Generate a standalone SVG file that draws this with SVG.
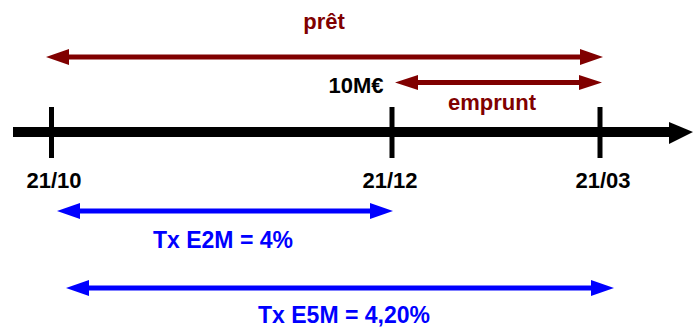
<svg xmlns="http://www.w3.org/2000/svg" width="693" height="329" viewBox="0 0 693 329">
<style>
text{font-family:"Liberation Sans",Arial,sans-serif;font-weight:bold;font-size:22px;text-anchor:middle}
.red{fill:#800000}
.blue{fill:#0000ff}
.blk{fill:#000}
.tick{stroke:#000;stroke-width:5}
</style>
<rect width="693" height="329" fill="#fff"/>
<g id="axis">
<rect x="13" y="127" width="657" height="10" fill="#000"/>
<path d="M669,122 L693,132 L669,144 Z" fill="#000"/>
<line class="tick" x1="51.5" y1="107" x2="51.5" y2="158"/>
<line class="tick" x1="392" y1="107" x2="392" y2="158"/>
<line class="tick" x1="600" y1="107" x2="600" y2="158"/>
</g>
<g id="d1"><text class="blk" x="54" y="188">21/10</text></g>
<g id="d2"><text class="blk" x="390" y="188">21/12</text></g>
<g id="d3"><text class="blk" x="603" y="188">21/03</text></g>
<g id="connectors">
<path class="red" d="M46,57 L69,49 L69,54.5 L580,54.5 L580,49 L603,57 L580,65 L580,59.5 L69,59.5 L69,65 Z"/>
<path class="red" d="M395,82.5 L418,75 L418,80 L579,80 L579,75 L602,82.5 L579,90 L579,85 L418,85 L418,90 Z"/>
<path class="blue" d="M57,211 L80,203 L80,208.5 L370,208.5 L370,203 L393,211 L370,219 L370,213.5 L80,213.5 L80,219 Z"/>
<path class="blue" d="M66,288 L89,280 L89,285.5 L591,285.5 L591,280 L614,288 L591,296 L591,290.5 L89,290.5 L89,296 Z"/>
</g>
<g id="pret"><text class="red" x="324" y="29">prêt</text></g>
<g id="amount"><text class="blk" x="356" y="93">10M€</text></g>
<g id="emprunt"><text class="red" x="492" y="110">emprunt</text></g>
<g id="e2m"><text class="blue" x="223" y="248" style="font-size:23px">Tx E2M = 4%</text></g>
<g id="e5m"><text class="blue" x="344" y="323" style="font-size:23px">Tx E5M = 4,20%</text></g>
</svg>
